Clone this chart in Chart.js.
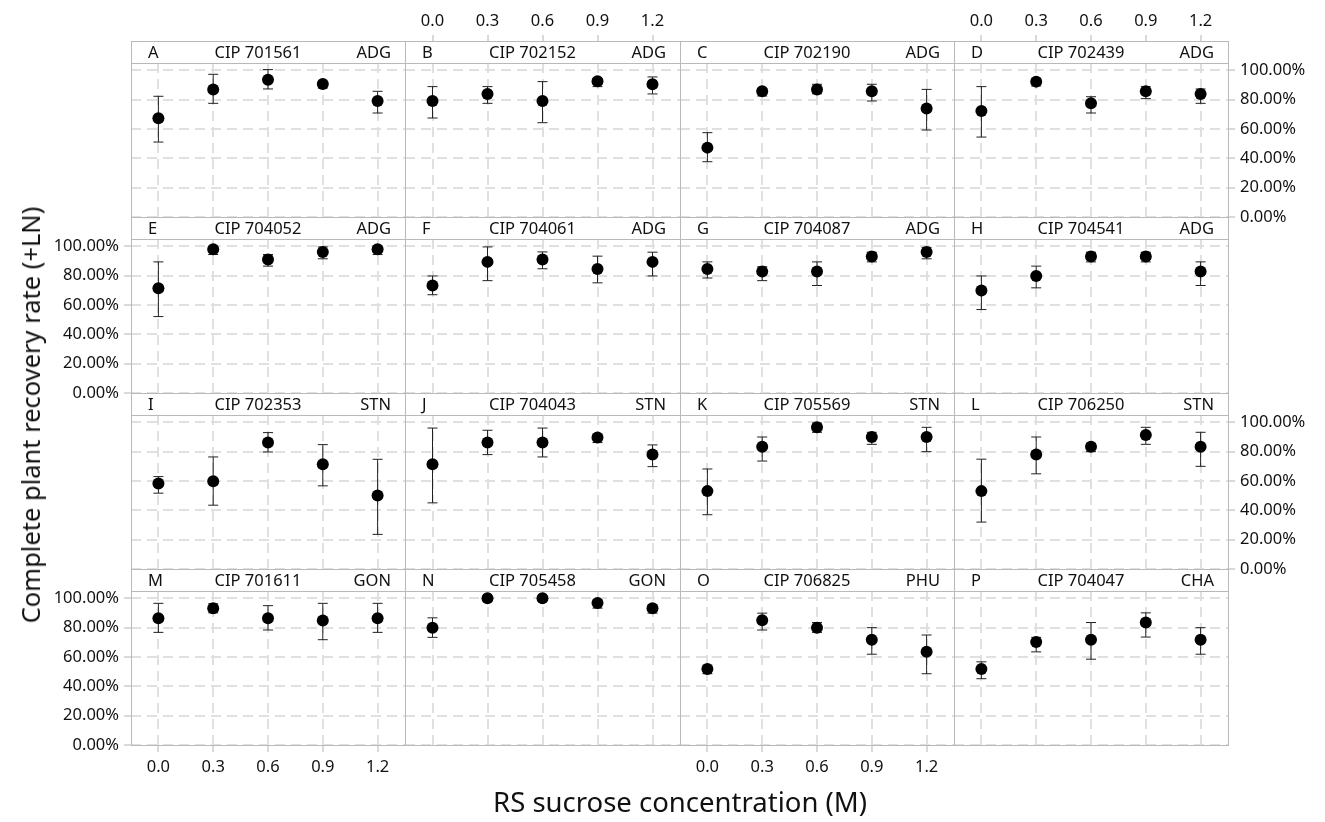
<!DOCTYPE html>
<html>
<head>
<meta charset="utf-8">
<script src="https://cdn.jsdelivr.net/npm/chart.js@4.4.0/dist/chart.umd.min.js"></script>
<style>
  body { margin: 0; background: #fff; font-family: 'Noto Sans', sans-serif; }
  #wrap { position: relative; width: 1325px; height: 822px; overflow: hidden; background: #fff; }
  #wrap canvas { position: absolute; }
  .strip { position: absolute; box-sizing: border-box; height: 23px; border: 1px solid #b9b9b9; background: #fff; z-index: 2; font-size: 16.5px; color: #111; }
  .strip span { position: absolute; top: 0; line-height: 20px; white-space: nowrap; }
  .title { position: absolute; white-space: nowrap; color: #111; z-index: 3; }
</style>
</head>
<body>
<div id="wrap">
  <div class="title" id="yTitle" style="left:30px;top:415px;font-size:25.5px;transform:translate(-50%,-50%) rotate(-90deg);">Complete plant recovery rate (+LN)</div>
  <div class="title" id="xTitle" style="left:680px;top:801px;font-size:27.5px;transform:translate(-50%,-50%);">RS sucrose concentration (M)</div>
</div>
<script>
// Données (taux de récupération en %)
const concentrations = [0, 0.3, 0.6, 0.9, 1.2];
const yTickValues = [0, 20, 40, 60, 80, 100];

const panelLetters = ['A', 'B', 'C', 'D', 'E', 'F', 'G', 'H', 'I', 'J', 'K', 'L', 'M', 'N', 'O', 'P'];
const cloneNames = ['CIP 701561', 'CIP 702152', 'CIP 702190', 'CIP 702439',
                    'CIP 704052', 'CIP 704061', 'CIP 704087', 'CIP 704541',
                    'CIP 702353', 'CIP 704043', 'CIP 705569', 'CIP 706250',
                    'CIP 701611', 'CIP 705458', 'CIP 706825', 'CIP 704047'];
const origins = ['ADG', 'ADG', 'ADG', 'ADG', 'ADG', 'ADG', 'ADG', 'ADG',
                 'STN', 'STN', 'STN', 'STN', 'GON', 'GON', 'PHU', 'CHA'];

const meanRate = [
  [67.3, 87.0, 93.6, 90.7, 79.1],
  [79.1, 83.9, 79.1, 92.5, 90.5],
  [47.3, 85.7, 87.0, 85.7, 73.9],
  [72.3, 92.3, 77.5, 85.7, 83.9],
  [71.5, 98.0, 91.0, 96.2, 98.0],
  [73.3, 89.4, 91.0, 84.5, 89.4],
  [84.5, 82.9, 82.9, 93.0, 96.2],
  [69.9, 79.8, 93.0, 93.0, 82.9],
  [58.3, 59.9, 86.2, 71.4, 50.1],
  [71.4, 86.2, 86.2, 89.6, 78.0],
  [53.1, 83.4, 96.6, 90.0, 90.0],
  [53.1, 78.0, 83.4, 91.4, 83.4],
  [86.5, 93.3, 86.5, 84.9, 86.5],
  [80.0, 100.0, 100.0, 96.8, 93.3],
  [51.8, 85.1, 80.0, 71.8, 63.5],
  [51.8, 70.2, 71.8, 83.5, 71.8]
];
const lowerRate = [
  [51.1, 77.5, 87.3, 88.0, 70.9],
  [67.5, 77.5, 64.3, 88.9, 83.9],
  [37.7, 82.5, 84.0, 79.1, 59.3],
  [54.5, 89.3, 70.9, 80.7, 77.5],
  [52.1, 94.4, 86.5, 91.5, 94.4],
  [67.0, 76.6, 84.7, 75.1, 79.8],
  [78.4, 76.6, 73.3, 89.4, 91.5],
  [56.9, 71.7, 89.4, 89.4, 73.3],
  [51.7, 43.5, 79.8, 56.7, 23.6],
  [45.1, 78.0, 76.4, 86.2, 69.8],
  [37.0, 73.6, 93.2, 85.0, 80.0],
  [32.0, 64.9, 80.0, 85.0, 70.0],
  [76.8, 90.1, 78.4, 71.8, 76.8],
  [73.4, 99.0, 99.0, 93.3, 89.9],
  [48.6, 78.4, 76.8, 61.9, 48.6],
  [45.2, 63.5, 58.5, 73.6, 61.9]
];
const upperRate = [
  [82.3, 97.3, 100.5, 92.5, 85.7],
  [88.9, 88.9, 92.3, 94.5, 95.5],
  [57.5, 87.7, 90.5, 90.5, 87.0],
  [88.9, 94.5, 82.0, 88.9, 87.3],
  [89.4, 100.0, 94.4, 99.6, 100.2],
  [79.8, 99.6, 96.2, 93.3, 96.0],
  [89.4, 86.1, 89.4, 96.0, 99.3],
  [79.8, 86.5, 96.0, 96.0, 89.4],
  [63.0, 76.4, 93.0, 84.8, 74.8],
  [96.1, 94.6, 96.1, 91.4, 84.6],
  [68.2, 90.0, 99.5, 93.2, 96.6],
  [74.9, 90.0, 85.6, 96.6, 93.2],
  [96.6, 96.3, 95.0, 96.6, 96.6],
  [86.7, 101.0, 101.0, 98.9, 95.6],
  [54.4, 89.9, 83.5, 80.0, 75.0],
  [56.7, 73.4, 83.5, 90.1, 80.0]
];

// Mise en page de la grille 4 x 4
const colX = [131, 405, 680, 954, 1228];
const stripTop = [41, 217, 393, 569];
const STRIP_H = 22;
const PLOT_H = 154;
const MARGIN = 24;
const FONT = "'Noto Sans', sans-serif";

// Cadre gris autour de la zone de tracé
const panelFrame = {
  id: 'panelFrame',
  afterDraw(chart) {
    const { ctx, chartArea: a } = chart;
    ctx.save();
    ctx.strokeStyle = '#b9b9b9';
    ctx.lineWidth = 1;
    ctx.strokeRect(Math.round(a.left) + 0.5, Math.round(a.top) + 0.5,
                   Math.round(a.right - a.left), Math.round(a.bottom - a.top));
    ctx.restore();
  }
};

const wrap = document.getElementById('wrap');

function buildPanel(i) {
  const r = Math.floor(i / 4);
  const c = i % 4;
  const left = colX[c];
  const width = colX[c + 1] - colX[c];
  const plotTop = stripTop[r] + STRIP_H;

  const hasLeft = c === 0 && r % 2 === 1;
  const hasRight = c === 3 && r % 2 === 0;
  const hasTop = r === 0 && c % 2 === 1;
  const hasBottom = r === 3 && c % 2 === 0;
  const extL = hasLeft ? 100 : 0;
  const extR = hasRight ? 97 : 0;
  const extT = hasTop ? 56 : 0;
  const extB = hasBottom ? 40 : 0;

  // Bandeau du panneau
  const strip = document.createElement('div');
  strip.className = 'strip';
  strip.style.left = left + 'px';
  strip.style.top = stripTop[r] + 'px';
  strip.style.width = (width + 1) + 'px';
  strip.innerHTML =
    `<span style="left:16px">${panelLetters[i]}</span>` +
    `<span style="left:${width / 2 - 11}px;transform:translateX(-50%)">${cloneNames[i]}</span>` +
    `<span style="right:14px">${origins[i]}</span>`;
  wrap.appendChild(strip);

  const canvas = document.createElement('canvas');
  const cw = width + extL + extR + 2 * MARGIN;
  const ch = PLOT_H + extT + extB + 2 * MARGIN;
  canvas.width = cw;
  canvas.height = ch;
  canvas.style.width = cw + 'px';
  canvas.style.height = ch + 'px';
  canvas.style.left = (left - extL - MARGIN) + 'px';
  canvas.style.top = (plotTop - extT - MARGIN) + 'px';
  wrap.appendChild(canvas);

  const datasets = [{
    data: concentrations.map((x, k) => ({ x: x, y: meanRate[i][k] })),
    pointRadius: 6,
    pointBackgroundColor: '#000',
    pointBorderWidth: 0,
    showLine: false,
    order: 0
  }];
  concentrations.forEach((x, k) => {
    datasets.push({
      data: [{ x: x, y: lowerRate[i][k] }, { x: x, y: upperRate[i][k] }],
      showLine: true,
      borderColor: '#222',
      borderWidth: 1,
      pointStyle: 'line',
      pointRadius: 5,
      pointBorderColor: '#222',
      pointBorderWidth: 1,
      order: 1
    });
  });

  new Chart(canvas.getContext('2d'), {
    type: 'scatter',
    data: { datasets: datasets },
    plugins: [panelFrame],
    options: {
      responsive: false,
      animation: false,
      devicePixelRatio: 1,
      layout: { padding: MARGIN },
      plugins: { legend: { display: false }, tooltip: { enabled: false } },
      scales: {
        x: {
          type: 'linear',
          position: hasTop ? 'top' : 'bottom',
          min: -0.15,
          max: 1.35,
          afterBuildTicks: (s) => { s.ticks = concentrations.map(v => ({ value: v })); },
          afterFit: (s) => { s.height = hasTop ? extT : extB; },
          grid: {
            color: '#e0e0e0',
            lineWidth: 2,
            drawTicks: hasTop || hasBottom,
            tickLength: hasTop ? 28 : 7,
            tickColor: '#b4b4b4',
            tickWidth: 1,
            tickBorderDash: []
          },
          border: { display: false, dash: [10, 6] },
          ticks: {
            display: hasTop || hasBottom,
            padding: hasTop ? 4 : 5,
            color: '#111',
            font: { family: FONT, size: 16.5 },
            maxRotation: 0,
            autoSkip: false,
            callback: (v) => Number(v).toFixed(1)
          }
        },
        y: {
          type: 'linear',
          position: hasRight ? 'right' : 'left',
          min: 0,
          max: 105,
          afterBuildTicks: (s) => { s.ticks = yTickValues.map(v => ({ value: v })); },
          afterFit: (s) => { s.width = hasRight ? extR : extL; },
          grid: {
            color: '#e0e0e0',
            lineWidth: 2,
            drawTicks: hasLeft || hasRight,
            tickLength: 7,
            tickColor: '#b4b4b4',
            tickWidth: 1,
            tickBorderDash: []
          },
          border: { display: false, dash: [10, 6] },
          ticks: {
            display: hasLeft || hasRight,
            padding: 5,
            color: '#111',
            font: { family: FONT, size: 16.5 },
            callback: (v) => Number(v).toFixed(2) + '%'
          }
        }
      }
    }
  });
}

for (let i = 0; i < 16; i++) {
  buildPanel(i);
}
</script>
</body>
</html>
